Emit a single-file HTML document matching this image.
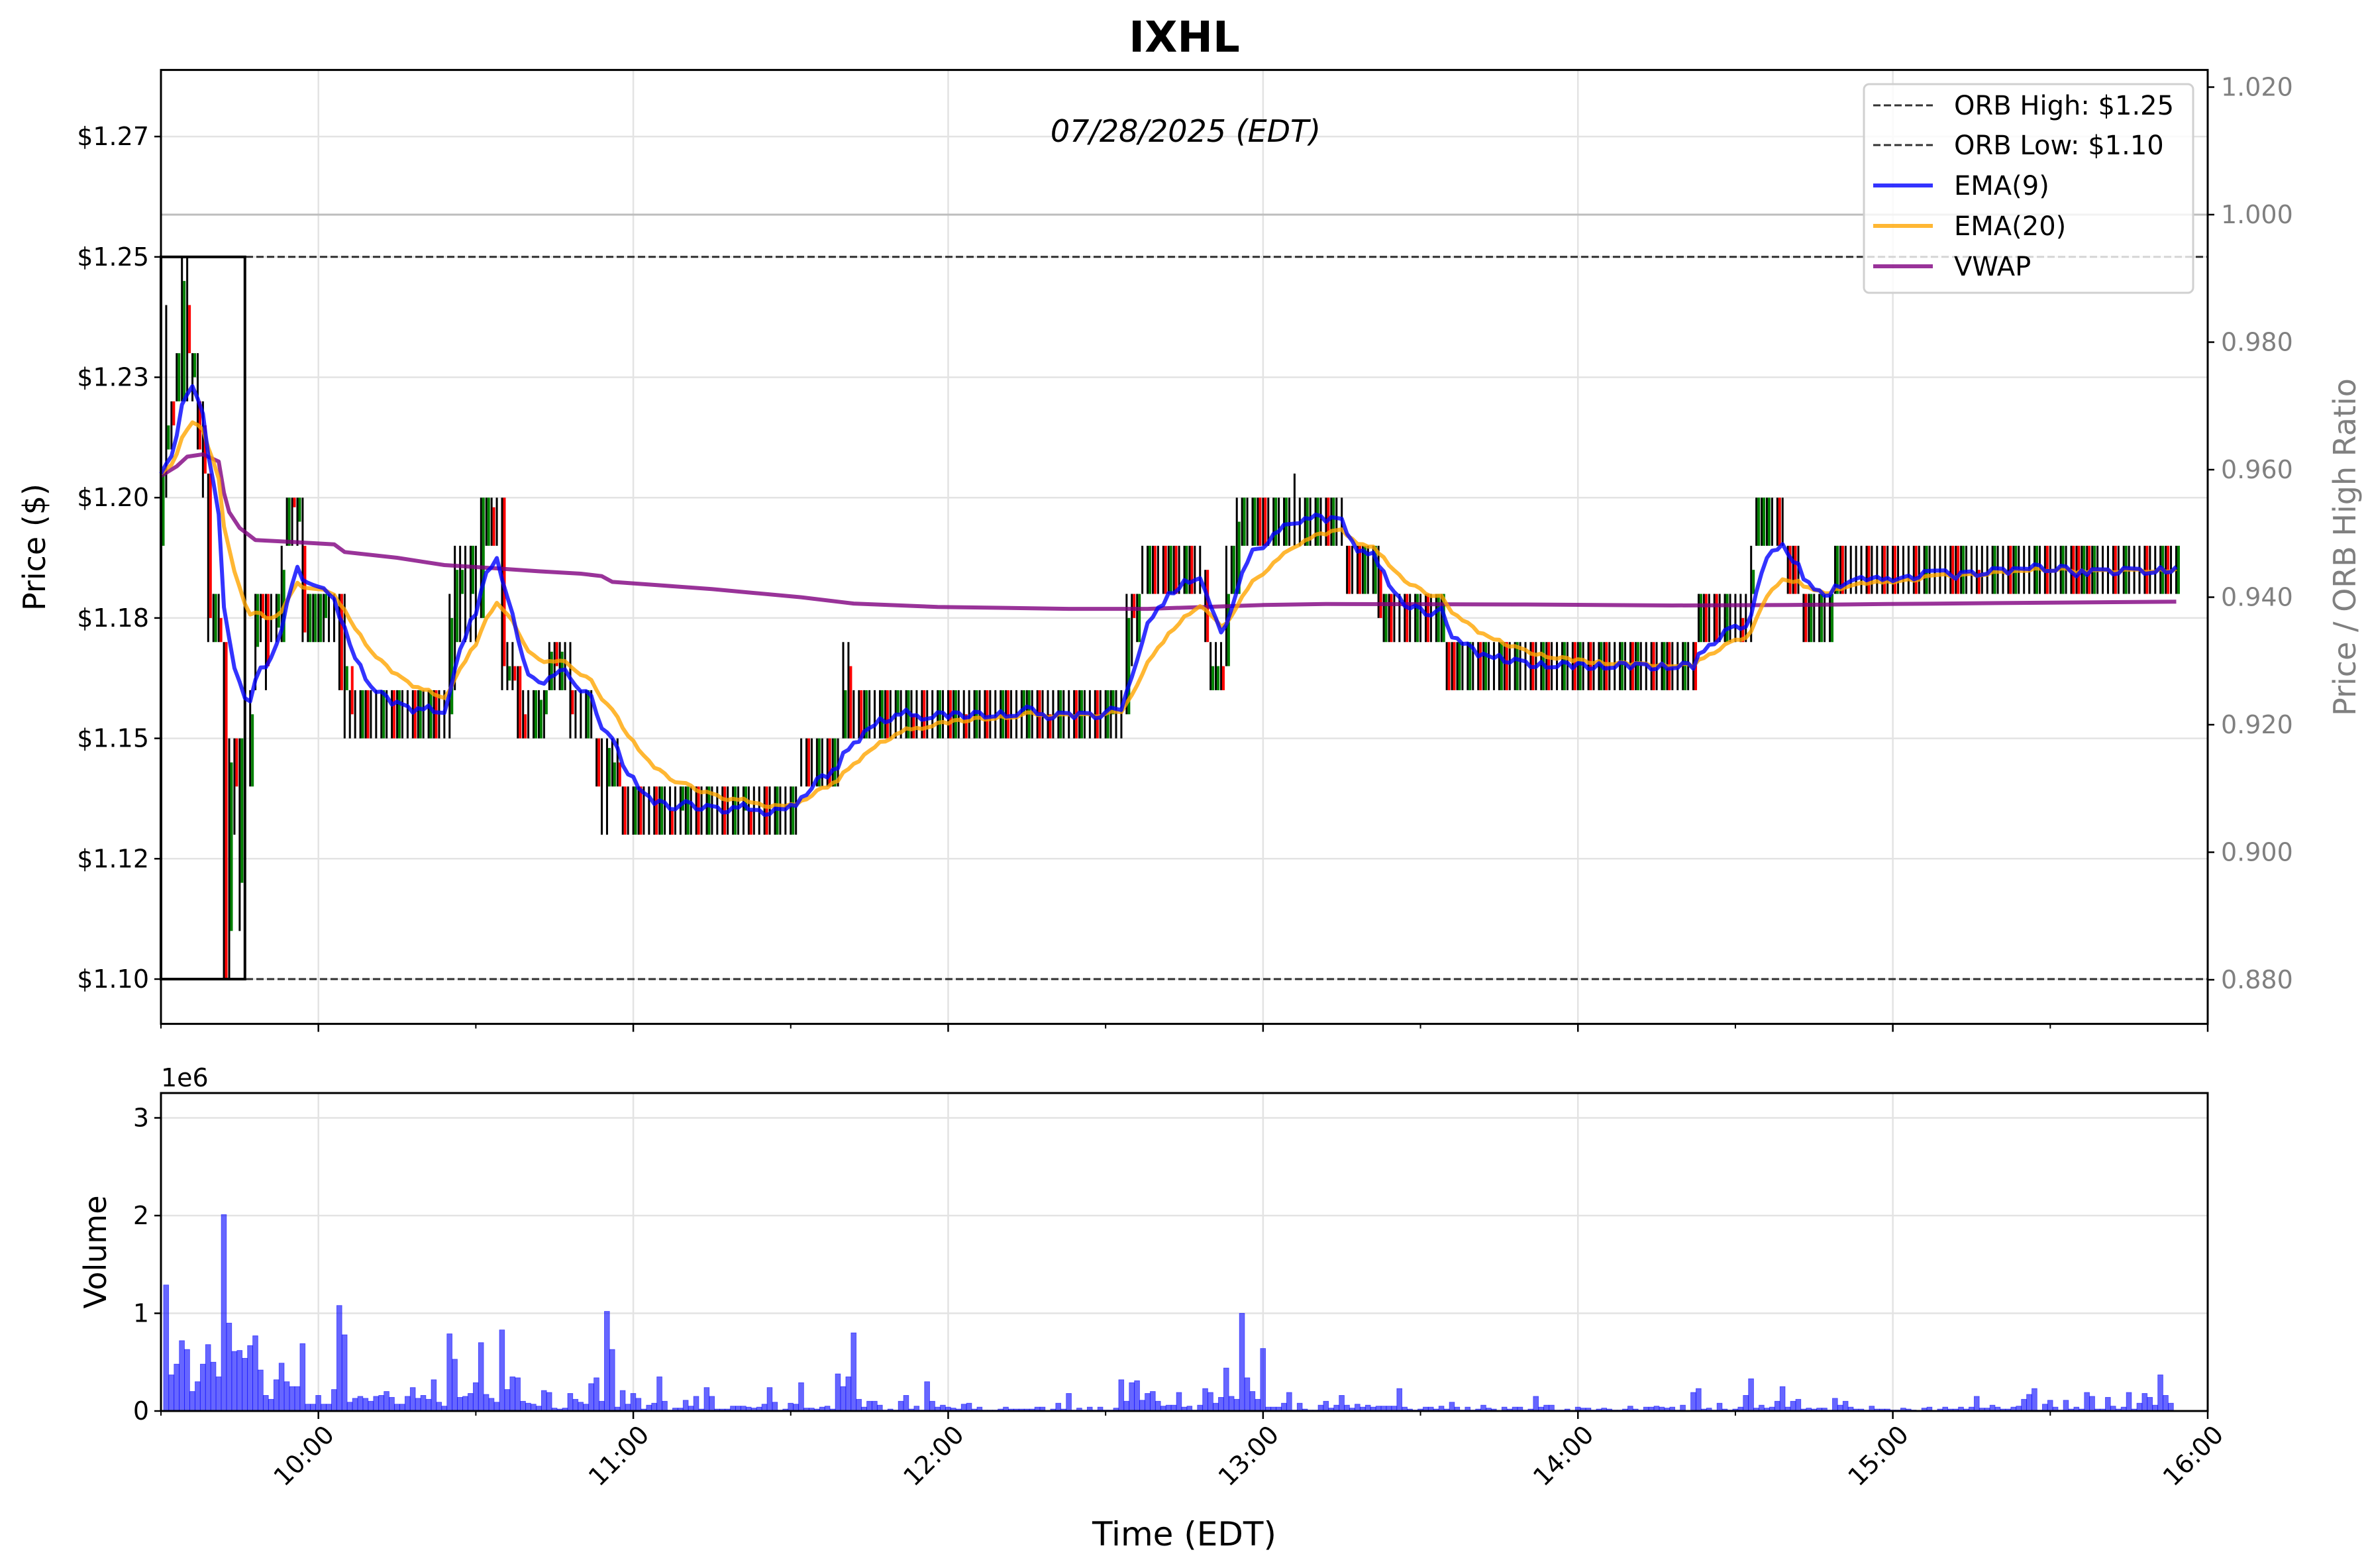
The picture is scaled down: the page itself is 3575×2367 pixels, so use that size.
<!DOCTYPE html>
<html><head><meta charset="utf-8"><title>IXHL chart</title>
<style>html,body{margin:0;padding:0;background:#fff}svg{display:block}text{font-family:"DejaVu Sans","Liberation Sans",sans-serif}</style>
</head><body>
<svg id="chart" xmlns="http://www.w3.org/2000/svg" width="3575" height="2367" viewBox="0 0 3575 2367">
<rect x="0" y="0" width="3575" height="2367" fill="#fff"/>
<g id="grid"></g>
<g id="marks"></g>
<g id="axes"></g>
<text x="1788" y="78" font-size="64" font-weight="bold" text-anchor="middle">IXHL</text>
<text x="1790" y="214" font-size="46" font-style="italic" text-anchor="middle">07/28/2025 (EDT)</text>
<text transform="translate(68,826) rotate(-90)" font-size="46" text-anchor="middle">Price ($)</text>
<text transform="translate(3556,826) rotate(-90)" font-size="46" fill="#808080" text-anchor="middle">Price / ORB High Ratio</text>
<text transform="translate(160,1890) rotate(-90)" font-size="46" text-anchor="middle">Volume</text>
<text x="1788" y="2333" font-size="50" text-anchor="middle">Time (EDT)</text>
<text x="243" y="1640" font-size="38">1e6</text>
<g>
<rect x="2814" y="127" width="497" height="315" rx="8" fill="#fff" fill-opacity="0.8" stroke="#d0d0d0" stroke-width="3"/>
<g><line x1="2828" y1="159" x2="2918" y2="159" stroke="#333" stroke-width="3" stroke-dasharray="11,5"/><text x="2950" y="173" font-size="40">ORB High: $1.25</text></g>
<g><line x1="2828" y1="219" x2="2918" y2="219" stroke="#333" stroke-width="3" stroke-dasharray="11,5"/><text x="2950" y="233" font-size="40">ORB Low: $1.10</text></g>
<g><line x1="2828" y1="280" x2="2918" y2="280" stroke="#0000ff" stroke-opacity="0.8" stroke-width="6"/><text x="2950" y="294" font-size="40">EMA(9)</text></g>
<g><line x1="2828" y1="341" x2="2918" y2="341" stroke="orange" stroke-opacity="0.8" stroke-width="6"/><text x="2950" y="355" font-size="40">EMA(20)</text></g>
<g><line x1="2828" y1="402" x2="2918" y2="402" stroke="purple" stroke-opacity="0.8" stroke-width="6"/><text x="2950" y="416" font-size="40">VWAP</text></g>
</g>
</svg>
<script>
// ---- data ----
const priceTicks = [1.10,1.125,1.15,1.175,1.20,1.225,1.25,1.275];
const priceTickLabels = ["$1.10","$1.12","$1.15","$1.18","$1.20","$1.23","$1.25","$1.27"];
const ratioTicks = [0.88,0.90,0.92,0.94,0.96,0.98,1.00,1.02];
const ratioTickLabels = ["0.880","0.900","0.920","0.940","0.960","0.980","1.000","1.020"];
const volTicks = [0,1,2,3];
const volTickLabels = ["0","1","2","3"];
const timeTicks = [30,90,150,210,270,330,390];
const timeTickLabels = ["10:00","11:00","12:00","13:00","14:00","15:00","16:00"];
const orbHigh = 1.25;
const orbLow = 1.10;
const orbMinutes = 16;
// VWAP: minutes and values
const vwapMinutes = [0,3,5,8,11,12,13,15,18,25,33,35,45,54,64,72,80,84,86,95,105,113,122,132,148,173,188,210,222,260,288,310,329,350,384];
const vwapValues = [1.2045,1.2065,1.2085,1.209,1.2075,1.201,1.197,1.1937,1.1912,1.1908,1.1903,1.1887,1.1875,1.186,1.1853,1.1847,1.1842,1.1837,1.1825,1.1818,1.181,1.1802,1.1793,1.178,1.1773,1.1769,1.1769,1.1777,1.1779,1.1778,1.1776,1.1777,1.1779,1.1781,1.1784];
// individually read candles: [minute, open, high, low, close]
const specialCandles = [
[0,1.19,1.21,1.18,1.205],[1,1.21,1.24,1.20,1.215],[2,1.22,1.22,1.21,1.215],[3,1.22,1.23,1.22,1.23],
[4,1.22,1.25,1.22,1.245],[5,1.24,1.25,1.22,1.23],[6,1.225,1.23,1.22,1.23],[7,1.22,1.23,1.21,1.21],
[8,1.215,1.22,1.20,1.205],[9,1.205,1.205,1.17,1.175],[10,1.17,1.18,1.17,1.18],[11,1.175,1.18,1.17,1.17],
[12,1.17,1.17,1.10,1.10],[13,1.11,1.15,1.10,1.145],[14,1.15,1.15,1.13,1.14],[15,1.12,1.15,1.11,1.15],
[16,1.145,1.18,1.11,1.145],[17,1.14,1.16,1.14,1.155],[18,1.169,1.18,1.16,1.18],[19,1.18,1.18,1.17,1.175],
[20,1.18,1.18,1.16,1.165],[21,1.175,1.18,1.17,1.175],[22,1.173,1.18,1.17,1.18],[23,1.17,1.19,1.17,1.185],
[24,1.19,1.20,1.19,1.20],[25,1.20,1.20,1.19,1.198],[26,1.195,1.20,1.19,1.20],[27,1.19,1.20,1.17,1.172],
[28,1.17,1.18,1.17,1.18],
[34,1.18,1.18,1.16,1.16],[35,1.16,1.18,1.15,1.165],[36,1.165,1.16,1.15,1.155],[37,1.155,1.16,1.15,1.155],
[55,1.155,1.18,1.15,1.175],[56,1.17,1.19,1.16,1.185],[57,1.18,1.19,1.17,1.185],
[61,1.175,1.20,1.175,1.20],[62,1.19,1.20,1.19,1.20],[63,1.198,1.20,1.19,1.19],[64,1.195,1.20,1.19,1.195],
[65,1.20,1.20,1.16,1.165],[66,1.162,1.17,1.16,1.165],[67,1.165,1.17,1.16,1.162],[68,1.165,1.165,1.15,1.15],
[69,1.155,1.16,1.15,1.15],[70,1.15,1.16,1.15,1.15],[71,1.15,1.16,1.15,1.16],[72,1.15,1.16,1.15,1.158],
[73,1.155,1.16,1.15,1.16],[74,1.16,1.17,1.16,1.168],[75,1.17,1.17,1.16,1.165],[76,1.16,1.17,1.16,1.168],
[77,1.165,1.17,1.16,1.165],[78,1.16,1.17,1.15,1.155],
[83,1.15,1.15,1.14,1.14],[84,1.14,1.15,1.13,1.14],[85,1.14,1.15,1.13,1.148],[86,1.14,1.15,1.14,1.145],
[87,1.145,1.15,1.14,1.14],[88,1.14,1.14,1.13,1.13],
[130,1.15,1.17,1.15,1.16],[131,1.165,1.17,1.15,1.15],
[184,1.155,1.18,1.155,1.175],[185,1.18,1.18,1.165,1.175],[186,1.17,1.18,1.17,1.18],
[199,1.185,1.185,1.17,1.17],[200,1.16,1.17,1.16,1.165],[201,1.16,1.17,1.16,1.165],[202,1.165,1.17,1.16,1.16],
[203,1.165,1.19,1.165,1.18],[204,1.18,1.19,1.18,1.19],[205,1.18,1.20,1.18,1.195],
[216,1.195,1.205,1.19,1.195],[226,1.19,1.19,1.18,1.18],[232,1.185,1.19,1.175,1.175],
[303,1.18,1.19,1.17,1.185],[310,1.19,1.19,1.18,1.18]
];
// range-bound stretches: [first minute, last minute, low, high, body pattern g=up r=down k=doji u=half-up d=half-down]
const rangeSegments = [
[29,33,1.17,1.18,"ggukk"],
[38,54,1.15,1.16,"grkkgkrgkkrgkgrkk"],
[58,60,1.17,1.19,"kuk"],
[79,82,1.15,1.16,"kkgk"],
[89,121,1.13,1.14,"kgrkkrgkdkugkrkgkkrkgkudkkrkgkkgk"],
[122,129,1.14,1.15,"krkgkrgk"],
[132,183,1.15,1.16,"krgkkgrkukgdkrkkgkrgkdkgkrkkgrkkugkrkdkgkkrgkkrkgukk"],
[187,198,1.18,1.19,"kgrkrgrkgrkk"],
[206,225,1.19,1.20,"gkgrrkgkgkrkgkgkrgkk"],
[227,231,1.18,1.19,"krgkg"],
[233,244,1.17,1.18,"grkkrkgkrkgg"],
[245,292,1.16,1.17,"rrgkgkrgkkgrkgkkrkgrkkgkrgkrkgrkkgkrgkkrkgrkkgk"],
[293,302,1.17,1.18,"grkrkgkkdk"],
[304,309,1.19,1.20,"gggkrk"],
[311,312,1.18,1.19,"rk"],
[313,318,1.17,1.18,"rgkgkg"],
[319,384,1.18,1.19,"grkkkkrkkrkrkkkrkgkkkkrrgkkdkkgkkrgkkkgkrkkgkrrgrgkkkrkgkkkrkkgrk"]
];
// volume in millions, one bar per minute (first bar = 9:31)
const volumes = [1.29,0.37,0.48,0.72,0.63,0.2,0.3,0.48,0.68,0.5,0.35,2.01,0.9,0.61,0.62,0.54,0.67,0.77,0.42,0.16,
0.12,0.32,0.49,0.3,0.25,0.25,0.69,0.07,0.07,0.16,0.07,0.07,0.22,1.08,0.78,0.09,0.13,0.15,0.13,0.1,
0.15,0.16,0.2,0.14,0.07,0.07,0.15,0.24,0.13,0.16,0.12,0.32,0.09,0.05,0.79,0.53,0.14,0.15,0.18,0.29,
0.7,0.17,0.13,0.09,0.83,0.22,0.35,0.34,0.1,0.08,0.07,0.05,0.21,0.19,0.03,0.02,0.03,0.18,0.12,0.09,
0.07,0.28,0.34,0.1,1.02,0.63,0.04,0.21,0.07,0.18,0.13,0.02,0.06,0.08,0.35,0.1,0.01,0.03,0.03,0.11,
0.05,0.15,0.02,0.24,0.15,0.02,0.02,0.02,0.05,0.05,0.05,0.04,0.03,0.04,
0.07,0.24,0.09,0.01,0.02,0.08,0.07,0.29,0.03,0.03,0.02,0.04,0.05,0.02,0.38,0.25,0.35,0.80,0.12,0.04,
0.10,0.10,0.06,0.01,0.02,0.01,0.10,0.16,0.02,0.05,0.01,0.30,0.10,0.04,0.06,0.04,0.03,0.02,0.07,0.08,
0.02,0.04,0.01,0.01,0.01,0.02,0.04,0.02,0.02,0.02,0.02,0.02,0.04,0.04,0,0.02,0.08,0.02,0.18,0.01,
0.03,0.01,0.04,0.01,0.04,0.01,0.01,0.03,0.32,0.10,0.29,0.31,0.11,0.18,0.20,0.10,0.05,0.06,0.06,0.19,
0.04,0.05,0.01,0.06,0.23,0.19,0.08,0.14,0.44,0.15,0.12,1.00,0.34,0.20,0.12,0.64,0.04,0.04,0.04,0.08,
0.19,0.01,0.08,0.02,0.01,0.01,0.06,0.10,0.03,0.06,0.16,0.06,0.03,0.07,0.04,0.06,0.04,0.05,0.05,0.05,
0.05,0.23,0.04,0.02,0.01,0.02,0.04,0.04,0.02,0.05,0.02,0.09,0.04,0.01,0.04,0.01,0.02,0.06,
0.03,0.02,0,0.04,0.02,0.04,0.04,0.01,0.02,0.15,0.04,0.06,0.06,0.01,0.01,0.02,0,0.04,0.03,0.03,
0.01,0.02,0.03,0.02,0.01,0.01,0.02,0.05,0.02,0.01,0.04,0.04,0.05,0.04,0.03,0.04,0.01,0.06,0,0.19,
0.23,0.02,0.03,0.01,0.08,0.02,0.01,0.02,0.04,0.16,0.33,0.03,0.06,0.03,0.04,0.10,0.25,0.04,0.10,0.12,
0.02,0.03,0.02,0.03,0.03,0.01,0.13,0.06,0.10,0.04,0.02,0.02,0.01,0.05,0.02,0.02,0.02,0.01,0.01,0.03,
0.02,0.01,0,0.03,0.04,0,0.02,0.04,0.02,0.02,0.04,0.02,0.04,0.15,0.03,0.03,0.06,0.04,0.02,0.02,
0.04,0.05,0.12,0.17,0.23,0.01,0.07,0.11,0.04,0.01,0.11,0.02,0.04,0.02,0.19,0.15,0.02,0.02,0.14,0.05,
0.02,0.04,0.19,0.02,0.08,0.18,0.14,0.06,0.37,0.16,0.08];

// ---- scales ----
const X0 = 243, X1 = 3333, MIN_PX = (X1 - X0) / 390;
const PY_TOP = 105.6, PY_BOT = 1545.6;
const VY_TOP = 1650, VY_BOT = 2130;
function xOf(minute){ return X0 + minute * MIN_PX; }
function yPrice(p){ return 387.8 + (1.25 - p) * 7268; }
function yRatio(r){ return 324 + (1 - r) * 9625; }
function yVol(v){ return VY_BOT - v * 147.5; }

const NS = "http://www.w3.org/2000/svg";
function mk(tag, attrs, parent){
  const e = document.createElementNS(NS, tag);
  for (const k in attrs) e.setAttribute(k, attrs[k]);
  parent.appendChild(e);
  return e;
}
const gGrid = document.getElementById('grid');
const gMarks = document.getElementById('marks');
const gAxes = document.getElementById('axes');

// ---- build candles ----
const candles = [];
rangeSegments.forEach(function(s){
  for (let m = s[0]; m <= s[1]; m++){
    const lo = s[2], hi = s[3], mid = (lo + hi) / 2;
    const c = s[4][(m - s[0]) % s[4].length];
    let o = mid, cl = mid;
    if (c === 'g'){ o = lo; cl = hi; }
    else if (c === 'r'){ o = hi; cl = lo; }
    else if (c === 'u'){ o = mid; cl = hi; }
    else if (c === 'd'){ o = mid; cl = lo; }
    candles[m] = {o:o, h:hi, l:lo, c:cl};
  }
});
specialCandles.forEach(function(s){ candles[s[0]] = {o:s[1], h:s[2], l:s[3], c:s[4]}; });

// ---- grid ----
priceTicks.forEach(function(p){
  const el = mk('line', {x1:X0, x2:X1, y1:yPrice(p), y2:yPrice(p), stroke:'#e3e3e3', 'stroke-width':2.5}, gGrid);
  
  
});
volTicks.forEach(function(v){
  const el = mk('line', {x1:X0, x2:X1, y1:yVol(v), y2:yVol(v), stroke:'#e3e3e3', 'stroke-width':2.5}, gGrid);
  
  
});
timeTicks.forEach(function(t){
  [[PY_TOP, PY_BOT], [VY_TOP, VY_BOT]].forEach(function(r){
    const el = mk('line', {x1:xOf(t), x2:xOf(t), y1:r[0], y2:r[1], stroke:'#e3e3e3', 'stroke-width':2.5}, gGrid);
    
    
  });
});
(function(){
  const el = mk('line', {x1:X0, x2:X1, y1:yRatio(1.0), y2:yRatio(1.0), stroke:'#bdbdbd', 'stroke-width':3}, gGrid);
  
  
})();

// ---- candles ----
candles.forEach(function(cd, m){
  if (!cd) return;
  const x = xOf(m);
  const w = mk('line', {x1:x, x2:x, y1:yPrice(cd.h), y2:yPrice(cd.l), stroke:'#000', 'stroke-width':3}, gMarks);
  
  
  if (cd.c !== cd.o){
    const top = yPrice(Math.max(cd.o, cd.c)), bot = yPrice(Math.min(cd.o, cd.c));
    const b = mk('rect', {x:x + 1.5, y:top, width:4, height:Math.max(2, bot - top), fill: cd.c > cd.o ? '#008000' : '#ff0000'}, gMarks);
    
    
  }
});

// ---- ORB box & lines ----
(function(){
  const box = mk('rect', {x:X0, y:yPrice(orbHigh), width:xOf(orbMinutes) - X0, height:yPrice(orbLow) - yPrice(orbHigh), fill:'none', stroke:'#000', 'stroke-width':4}, gMarks);
  
  
  const hl = mk('line', {x1:X0, x2:X1, y1:yPrice(orbHigh), y2:yPrice(orbHigh), stroke:'#000', 'stroke-opacity':0.8, 'stroke-width':3, 'stroke-dasharray':'11,5'}, gMarks);
  
  
  const ll = mk('line', {x1:X0, x2:X1, y1:yPrice(orbLow), y2:yPrice(orbLow), stroke:'#000', 'stroke-opacity':0.8, 'stroke-width':3, 'stroke-dasharray':'11,5'}, gMarks);
  
  
})();

// ---- indicators ----
function ema(span){
  const a = 2 / (span + 1); const out = []; let prev = null;
  candles.forEach(function(cd, m){ prev = prev === null ? cd.c : a * cd.c + (1 - a) * prev; out[m] = prev; });
  return out;
}
const ema9 = ema(9), ema20 = ema(20);
function linePath(arr){
  let d = '';
  arr.forEach(function(v, m){ d += (m === 0 ? 'M' : 'L') + xOf(m).toFixed(1) + ',' + yPrice(v).toFixed(1); });
  return d;
}
function xyPath(ms, vs){
  let d = '';
  ms.forEach(function(m, i){ d += (i === 0 ? 'M' : 'L') + xOf(m).toFixed(1) + ',' + yPrice(vs[i]).toFixed(1); });
  return d;
}
[[xyPath(vwapMinutes, vwapValues), 'purple', 'vwap-line'], [linePath(ema20), 'orange', 'ema20-line'], [linePath(ema9), '#0000ff', 'ema9-line']].forEach(function(s){
  const p = mk('path', {d:s[0], fill:'none', stroke:s[1], 'stroke-opacity':0.8, 'stroke-width':6, 'stroke-linejoin':'round'}, gMarks);
  
  
});

// ---- volume bars ----
volumes.forEach(function(v, i){
  const x = xOf(i + 1) - 4;
  const r = mk('rect', {x:x, y:yVol(v), width:MIN_PX * 0.98, height:VY_BOT - yVol(v), fill:'#0000ff', 'fill-opacity':0.6, stroke:'#0000ff', 'stroke-opacity':0.6, 'stroke-width':0.8}, gMarks);
  
  
});

// ---- axes frames ----
[[PY_TOP, PY_BOT, 'price-axes-frame'], [VY_TOP, VY_BOT, 'volume-axes-frame']].forEach(function(f){
  const r = mk('rect', {x:X0, y:f[0], width:X1 - X0, height:f[1] - f[0], fill:'none', stroke:'#000', 'stroke-width':3}, gAxes);
  
  
});
priceTicks.forEach(function(p, i){
  const y = yPrice(p);
  mk('line', {x1:X0 - 10, x2:X0, y1:y, y2:y, stroke:'#000', 'stroke-width':2.5}, gAxes);
  const t = mk('text', {x:X0 - 18, y:y + 13, 'font-size':38, 'text-anchor':'end'}, gAxes);
  t.textContent = priceTickLabels[i];
  
  
});
ratioTicks.forEach(function(r, i){
  const y = yRatio(r);
  mk('line', {x1:X1, x2:X1 + 10, y1:y, y2:y, stroke:'#000', 'stroke-width':2.5}, gAxes);
  const t = mk('text', {x:X1 + 20, y:y + 13, 'font-size':38, fill:'#808080'}, gAxes);
  t.textContent = ratioTickLabels[i];
  
  
});
volTicks.forEach(function(v, i){
  const y = yVol(v);
  mk('line', {x1:X0 - 10, x2:X0, y1:y, y2:y, stroke:'#000', 'stroke-width':2.5}, gAxes);
  const t = mk('text', {x:X0 - 18, y:y + 13, 'font-size':38, 'text-anchor':'end'}, gAxes);
  t.textContent = volTickLabels[i];
  
  
});
for (let m = 0; m <= 390; m += 30){
  const major = timeTicks.indexOf(m) >= 0;
  [PY_BOT, VY_BOT].forEach(function(yb){
    mk('line', {x1:xOf(m), x2:xOf(m), y1:yb, y2:yb + (major ? 12 : 7), stroke:'#000', 'stroke-width':major ? 2.5 : 2}, gAxes);
  });
}
timeTicks.forEach(function(t, i){
  const x = xOf(t);
  const tx = mk('text', {transform:'translate(' + (x + 26) + ',2168) rotate(-45)', 'font-size':38, 'text-anchor':'end'}, gAxes);
  tx.textContent = timeTickLabels[i];
  
  
});
</script>
</body></html>
